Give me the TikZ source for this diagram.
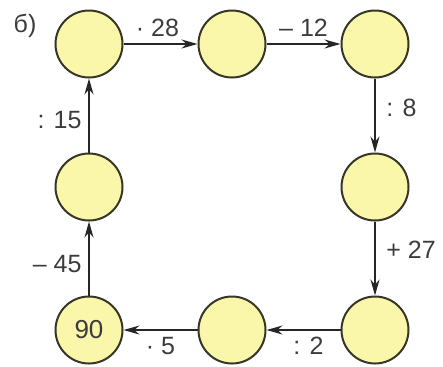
\documentclass[tikz,border=0pt]{standalone}
\usepackage{fontspec}
\setmainfont{Liberation Sans}
\usetikzlibrary{arrows.meta, positioning}
\definecolor{circfill}{RGB}{250,246,170}
\definecolor{circline}{RGB}{55,55,40}
\definecolor{txt}{RGB}{60,60,60}
\tikzset{
  circ/.style={circle, minimum size=33.5pt, inner sep=0pt, draw=circline, line width=1pt, fill=circfill, text=txt, font=\fontsize{13}{15}\selectfont},
  arrow/.style={line width=0.8pt, draw=black!85, -{Stealth[length=8pt,width=4.5pt]}},
  lbl/.style={text=txt, font=\fontsize{12.5}{15}\selectfont}
}
\begin{document}
\begin{tikzpicture}[node distance=71.5pt, on grid]
  \useasboundingbox (-44.5pt,22pt) rectangle (177pt,-161pt);

  \node (tl) [circ] {};
  \node (tm) [circ, right=of tl] {};
  \node (tr) [circ, right=of tm] {};
  \node (mr) [circ, below=of tr] {};
  \node (br) [circ, below=of mr] {};
  \node (bm) [circ, left=of br] {};
  \node (bl) [circ, left=of bm] {90};
  \node (ml) [circ, above=of bl] {};
  \node (title) [lbl, left=32pt of tl, yshift=9pt] {б)};

  \draw [arrow] (tl) -- node[lbl, above, xshift=-1.5pt] {· 28} (tm);
  \draw [arrow] (tm) -- node[lbl, above] {– 12} (tr);
  \draw [arrow] (tr) -- node[lbl, right, xshift=2pt, yshift=4pt] {: 8} (mr);
  \draw [arrow] (mr) -- node[lbl, right, xshift=2pt, yshift=4.5pt] {+ 27} (br);
  \draw [arrow] (br) -- node[lbl, below, xshift=2.5pt] {: 2} (bm);
  \draw [arrow] (bm) -- node[lbl, below] {· 5} (bl);
  \draw [arrow] (bl) -- node[lbl, left, yshift=-3pt] {– 45} (ml);
  \draw [arrow] (ml) -- node[lbl, left, yshift=-2.5pt] {: 15} (tl);

\end{tikzpicture}
\end{document}
